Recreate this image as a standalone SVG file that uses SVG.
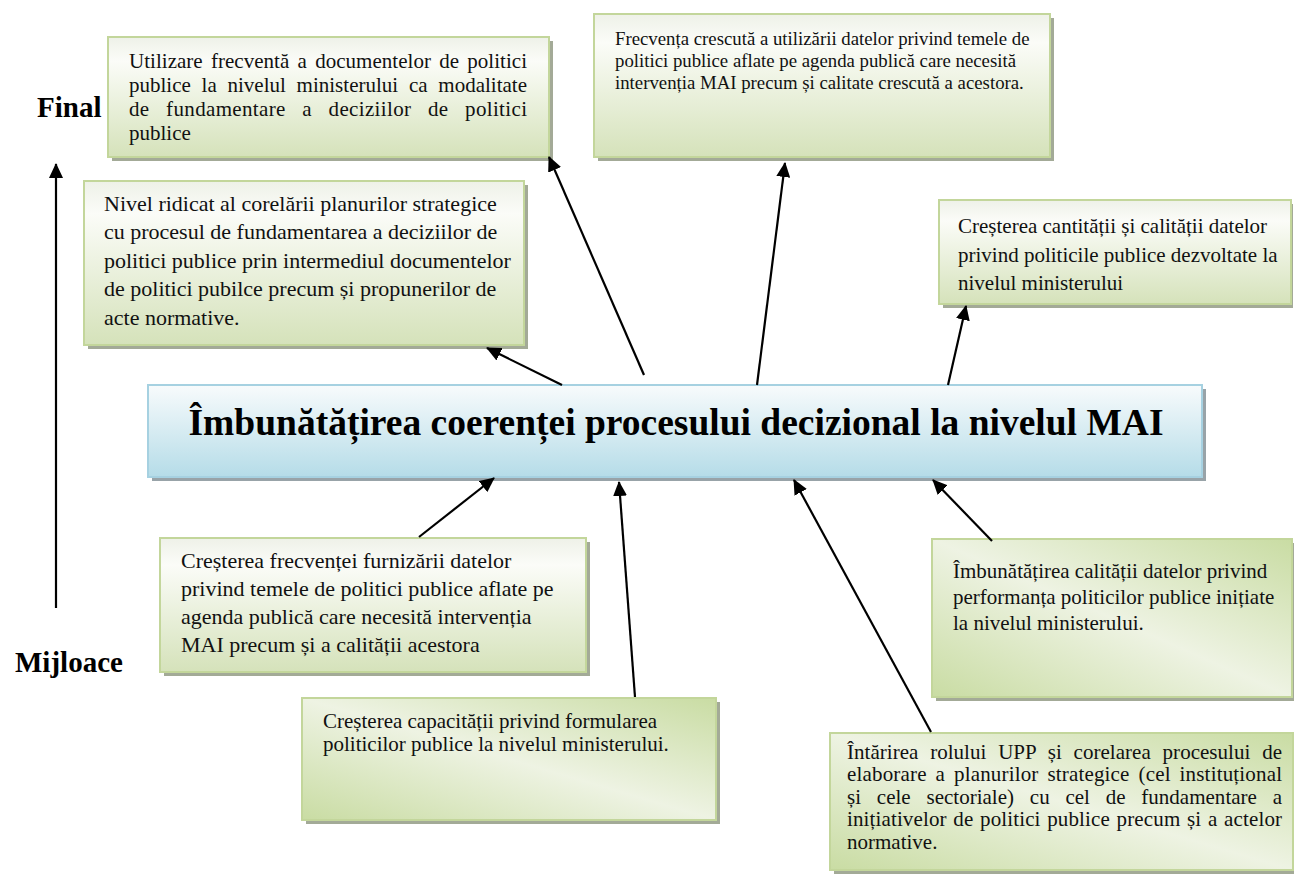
<svg xmlns="http://www.w3.org/2000/svg" width="1299" height="877" viewBox="0 0 1299 877">
<defs>
<linearGradient id="gv" x1="0" y1="0" x2="0" y2="1">
<stop offset="0" stop-color="#eef1e8"/>
<stop offset="0.2" stop-color="#fbfcf8"/>
<stop offset="1" stop-color="#d5e2ba"/>
</linearGradient>
<linearGradient id="gd" x1="1" y1="0" x2="0" y2="1">
<stop offset="0" stop-color="#c9dca3"/>
<stop offset="0.5" stop-color="#eef3e3"/>
<stop offset="1" stop-color="#c9dca3"/>
</linearGradient>
<linearGradient id="gb" x1="0" y1="0" x2="0" y2="1">
<stop offset="0" stop-color="#f8fbfc"/>
<stop offset="1" stop-color="#b5dce8"/>
</linearGradient>
<marker id="ah" markerUnits="userSpaceOnUse" markerWidth="16" markerHeight="14" refX="14" refY="7" orient="auto">
<path d="M0,0 L15,7 L0,14 Z" fill="#000"/>
</marker>
<style>
.sh{fill:#a3aa97}
.bx{stroke:#c3d69b;stroke-width:2}
.t{font-family:"Liberation Serif","Times New Roman",serif;font-size:21px;fill:#111}
.t19{font-size:18.8px}
.t22{font-size:22px}
.lb{font-family:"Liberation Serif","Times New Roman",serif;font-size:29px;font-weight:bold;fill:#000}
.c{stroke:#000;stroke-width:2.2;fill:none;marker-end:url(#ah)}
</style>
</defs>
<rect width="1299" height="877" fill="#fff"/>

<g id="label-final"><text class="lb" x="37" y="117">Final</text></g>
<g id="label-mijloace"><text class="lb" x="15" y="672">Mijloace</text></g>

<g id="n1">
<rect class="sh" x="112" y="41" width="441" height="120"/>
<rect class="bx" x="108" y="37" width="441" height="120" fill="url(#gv)"/>
<text class="t"><tspan x="129" y="68" word-spacing="3" textLength="398">Utilizare frecventă a documentelor de politici</tspan><tspan x="129" y="92" word-spacing="5.5" textLength="398">publice la nivelul ministerului ca modalitate</tspan><tspan x="129" y="116" word-spacing="11" textLength="398">de fundamentare a deciziilor de politici</tspan><tspan x="129" y="140">publice</tspan></text>
</g>

<g id="n2">
<rect class="sh" x="598" y="18" width="456" height="143"/>
<rect class="bx" x="594" y="14" width="456" height="143" fill="url(#gv)"/>
<text class="t t19"><tspan x="615" y="45">Frecvența crescută a utilizării datelor privind  temele de</tspan><tspan x="615" y="67">politici publice aflate pe  agenda publică care  necesită</tspan><tspan x="615" y="89">intervenția  MAI precum și  calitate crescută a  acestora.</tspan></text>
</g>

<g id="n3">
<rect class="sh" x="88" y="185" width="440" height="164"/>
<rect class="bx" x="84" y="181" width="440" height="164" fill="url(#gv)"/>
<text class="t t22"><tspan x="104" y="211">Nivel ridicat al corelării planurilor strategice</tspan><tspan x="104" y="239">cu procesul de fundamentarea a deciziilor de</tspan><tspan x="104" y="268">politici publice prin intermediul documentelor</tspan><tspan x="104" y="296">de politici pubilce precum și propunerilor de</tspan><tspan x="104" y="325">acte normative.</tspan></text>
</g>

<g id="n4">
<rect class="sh" x="943" y="204" width="350" height="104"/>
<rect class="bx" x="939" y="200" width="352" height="104" fill="url(#gv)"/>
<text class="t"><tspan x="958" y="233">Creșterea cantității și calității datelor</tspan><tspan x="958" y="262">privind politicile publice dezvoltate la</tspan><tspan x="958" y="290">nivelul ministerului</tspan></text>
</g>

<g id="center">
<rect x="152" y="389" width="1054" height="92" fill="#98a3a8"/>
<rect x="148" y="385" width="1054" height="92" fill="url(#gb)" stroke="#a6d1e1" stroke-width="2"/>
<text x="676" y="435" text-anchor="middle" font-family="&quot;Liberation Serif&quot;,&quot;Times New Roman&quot;,serif" font-size="37.5" font-weight="bold" fill="#000">Îmbunătățirea coerenței procesului decizional la nivelul MAI</text>
</g>

<g id="n6">
<rect class="sh" x="164" y="542" width="426" height="134"/>
<rect class="bx" x="160" y="538" width="426" height="134" fill="url(#gv)"/>
<text class="t t22"><tspan x="181" y="568">Creșterea frecvenței furnizării datelor</tspan><tspan x="181" y="596">privind  temele de politici publice aflate pe</tspan><tspan x="181" y="624">agenda publică care  necesită intervenția</tspan><tspan x="181" y="652">MAI precum și  a calității acestora</tspan></text>
</g>

<g id="n7">
<rect class="sh" x="936" y="543" width="358" height="158"/>
<rect class="bx" x="932" y="539" width="360" height="158" fill="url(#gd)"/>
<text class="t"><tspan x="953" y="578">Îmbunătățirea calității datelor privind</tspan><tspan x="953" y="604">performanța politicilor publice inițiate</tspan><tspan x="953" y="630">la nivelul ministerului.</tspan></text>
</g>

<g id="n8">
<rect class="sh" x="306" y="702" width="414" height="122"/>
<rect class="bx" x="302" y="698" width="414" height="122" fill="url(#gd)"/>
<text class="t"><tspan x="323" y="728">Creșterea capacității privind formularea</tspan><tspan x="323" y="751">politicilor publice la nivelul ministerului.</tspan></text>
</g>

<g id="n9">
<rect class="sh" x="834" y="737" width="460" height="137"/>
<rect class="bx" x="830" y="733" width="463" height="137" fill="url(#gd)"/>
<text class="t"><tspan x="847" y="759" word-spacing="6.5" textLength="435">Întărirea rolului UPP și corelarea procesului de</tspan><tspan x="847" y="781" word-spacing="3.5" textLength="435">elaborare a planurilor strategice (cel instituțional</tspan><tspan x="847" y="804" word-spacing="10.5" textLength="435">și cele sectoriale) cu cel de fundamentare a</tspan><tspan x="847" y="826" word-spacing="1.3" textLength="435">inițiativelor de politici publice precum și a actelor</tspan><tspan x="847" y="849">normative.</tspan></text>
</g>

<g id="connectors">
<line class="c" x1="56" y1="608" x2="56" y2="164"/>
<line class="c" x1="562" y1="385" x2="487" y2="348"/>
<line class="c" x1="644" y1="375" x2="549" y2="157"/>
<line class="c" x1="757" y1="385" x2="785" y2="163"/>
<line class="c" x1="948" y1="385" x2="966" y2="306"/>
<line class="c" x1="419" y1="537" x2="494" y2="478"/>
<line class="c" x1="635" y1="697" x2="619" y2="482"/>
<line class="c" x1="931" y1="732" x2="794" y2="480"/>
<line class="c" x1="992" y1="541" x2="933" y2="480"/>
</g>
</svg>
